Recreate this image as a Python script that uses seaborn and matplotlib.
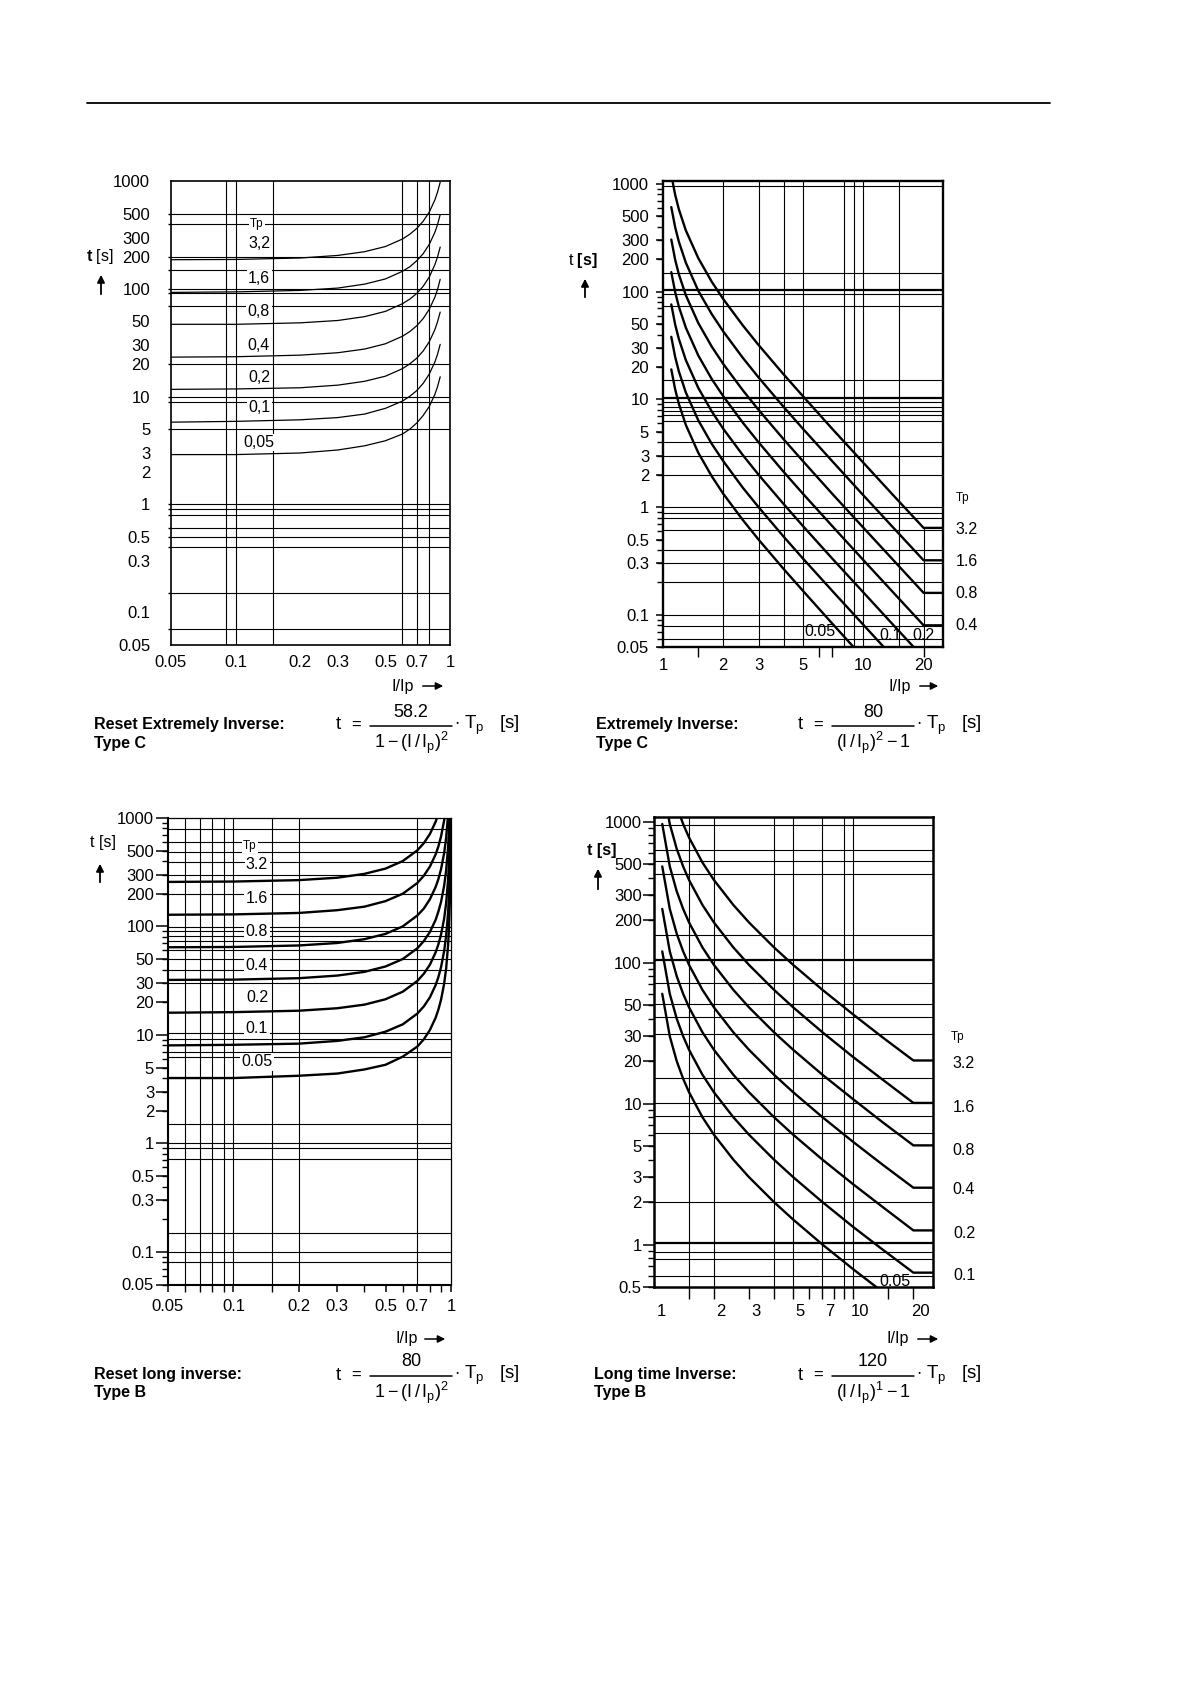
import numpy as np
import pandas as pd
import matplotlib
matplotlib.use("Agg")
import matplotlib.pyplot as plt
import matplotlib.ticker as mticker
from matplotlib.patches import FancyArrowPatch
from matplotlib.lines import Line2D
from matplotlib.transforms import ScaledTranslation
import seaborn as sns

# ---------------- data ----------------
TP_LABELS = ["3.2", "1.6", "0.8", "0.4", "0.2", "0.1", "0.05"]

# Panel A : Reset Extremely Inverse, Type C   (x = I/Ip, t in s)
a_x = [0.05, 0.1, 0.2, 0.3, 0.4, 0.5, 0.6, 0.65, 0.7, 0.75, 0.8, 0.85, 0.875, 0.9]
a_32 = [187, 188, 194, 205, 222, 248, 291, 323, 365, 426, 517, 671, 795, 980]
a_16 = [93, 94, 97, 102, 111, 124, 146, 161, 183, 213, 259, 336, 397, 490]
a_08 = [47, 47, 48.5, 51, 55.4, 62, 73, 80.6, 91, 106, 129, 168, 199, 245]
a_04 = [23.3, 23.5, 24.3, 25.6, 27.7, 31, 36.4, 40.3, 45.6, 53.2, 64.7, 83.9, 99, 123]
a_02 = [11.7, 11.8, 12.1, 12.8, 13.9, 15.5, 18.2, 20.2, 22.8, 26.6, 32.3, 41.9, 49.7, 61]
a_01 = [5.8, 5.9, 6.1, 6.4, 6.9, 7.8, 9.1, 10.1, 11.4, 13.3, 16.2, 21, 24.8, 30.6]
a_005 = [2.9, 2.9, 3.0, 3.2, 3.5, 3.9, 4.5, 5.0, 5.7, 6.7, 8.1, 10.5, 12.4, 15.3]

# Panel B : Extremely Inverse, Type C
b_x = [1.1, 1.15, 1.2, 1.3, 1.5, 1.75, 2, 2.5, 3, 4, 5, 7, 10, 14, 20, 25]
b_32 = [1219, 794, 582, 371, 205, 124, 85.3, 48.8, 32, 17.1, 10.7, 5.33, 2.59, 1.31, 0.642, 0.642]
b_16 = [610, 397, 291, 186, 102, 62.1, 42.7, 24.4, 16, 8.53, 5.33, 2.67, 1.29, 0.656, 0.321, 0.321]
b_08 = [305, 198, 145, 92.8, 51.2, 31.0, 21.3, 12.2, 8.0, 4.27, 2.67, 1.33, 0.646, 0.328, 0.160, 0.160]
b_04 = [152, 99.2, 72.7, 46.4, 25.6, 15.5, 10.7, 6.10, 4.0, 2.13, 1.33, 0.667, 0.323, 0.164, 0.080, 0.080]
b_02 = [76.2, 49.6, 36.4, 23.2, 12.8, 7.76, 5.33, 3.05, 2.0, 1.07, 0.667, 0.333, 0.162, 0.082, 0.040]
b_01 = [38.1, 24.8, 18.2, 11.6, 6.4, 3.88, 2.67, 1.52, 1.0, 0.533, 0.333, 0.167, 0.081, 0.041]
b_005 = [19.0, 12.4, 9.09, 5.80, 3.2, 1.94, 1.33, 0.762, 0.5, 0.267, 0.167, 0.083, 0.040]

# Panel C : Reset long inverse, Type B
c_x = [0.05, 0.1, 0.2, 0.3, 0.4, 0.5, 0.6, 0.7, 0.75, 0.8, 0.85, 0.875, 0.9,
       0.93, 0.95, 0.97, 0.98, 0.99, 0.995, 0.998]
c_32 = [257, 259, 267, 281, 305, 341, 400, 502, 585, 711, 923, 1092]
c_16 = [128, 129, 133, 141, 152, 171, 200, 251, 293, 356, 461, 546, 674, 948, 1313]
c_08 = [64.2, 64.6, 66.7, 70.3, 76.2, 85.3, 100, 126, 146, 178, 231, 273, 337, 474, 656, 1083]
c_04 = [32.1, 32.3, 33.3, 35.2, 38.1, 42.7, 50.0, 62.8, 73.2, 88.9, 115, 137, 168, 237, 328,
        541, 808, 1608]
c_02 = [16.0, 16.2, 16.7, 17.6, 19.0, 21.3, 25.0, 31.4, 36.6, 44.4, 57.7, 68.3, 84.2, 118, 164,
        271, 404, 804, 1604]
c_01 = [8.0, 8.1, 8.3, 8.8, 9.5, 10.7, 12.5, 15.7, 18.3, 22.2, 28.8, 34.1, 42.1, 59.2, 82.1,
        135, 202, 402, 802, 2002]
c_005 = [4.0, 4.0, 4.2, 4.4, 4.8, 5.3, 6.3, 7.8, 9.1, 11.1, 14.4, 17.1, 21.1, 29.6, 41.0,
         67.7, 101, 201, 401, 1001]

# Panel D : Long time Inverse, Type B
d_x = [1.1, 1.2, 1.3, 1.4, 1.5, 1.75, 2, 2.5, 3, 4, 5, 7, 10, 14, 20, 25]
d_32 = [3840, 1920, 1280, 960, 768, 512, 384, 256, 192, 128, 96, 64, 42.7, 29.5, 20.2, 20.2]
d_16 = [1920, 960, 640, 480, 384, 256, 192, 128, 96, 64, 48, 32, 21.3, 14.8, 10.1, 10.1]
d_08 = [960, 480, 320, 240, 192, 128, 96, 64, 48, 32, 24, 16, 10.7, 7.38, 5.05, 5.05]
d_04 = [480, 240, 160, 120, 96, 64, 48, 32, 24, 16, 12, 8, 5.33, 3.69, 2.53, 2.53]
d_02 = [240, 120, 80, 60, 48, 32, 24, 16, 12, 8, 6, 4, 2.67, 1.85, 1.26, 1.26]
d_01 = [120, 60, 40, 30, 24, 16, 12, 8, 6, 4, 3, 2, 1.33, 0.923, 0.632, 0.632]
d_005 = [60, 30, 20, 15, 12, 8, 6, 4, 3, 2, 1.5, 1.0, 0.667, 0.462]

# tick labels
Y_TICKS = [1000, 500, 300, 200, 100, 50, 30, 20, 10, 5, 3, 2, 1, 0.5, 0.3, 0.1, 0.05]
Y_TICKS_D = [1000, 500, 300, 200, 100, 50, 30, 20, 10, 5, 3, 2, 1, 0.5]
X_TICKS_RESET = [0.05, 0.1, 0.2, 0.3, 0.5, 0.7, 1]
X_TICKS_B = [1, 2, 3, 5, 10, 20]
X_TICKS_D = [1, 2, 3, 5, 7, 10, 20]


def fmt(v):
    return f"{v:g}"


# grid lines seen on the scanned chart sheets
a_hgrid = [500, 400, 200, 150, 100, 92, 70, 20, 10, 9, 5, 1.0, 0.9, 0.8, 0.6, 0.5, 0.4, 0.15, 0.07]
a_vgrid = [0.09, 0.1, 0.15, 0.6, 0.7, 0.8]
b_hgrid = [960, 150, 95, 73, 15, 9.4, 8.5, 7.8, 7.1, 6.3, 4.0, 3.0, 2.0, 1.0, 0.89, 0.8,
           0.61, 0.4, 0.3, 0.2, 0.1, 0.078, 0.06]
b_hgrid_bold = [104, 10.4]
b_vgrid = [2, 3, 4, 5, 8, 9, 10, 15]
c_hgrid = [790, 600, 490, 395, 300, 200, 98, 90, 82, 74, 60, 50, 40, 30, 10.3, 9.2, 6.9, 6.2,
           1.5, 1.0, 0.9, 0.71, 0.15, 0.10, 0.08]
c_vgrid = [0.06, 0.07, 0.08, 0.09, 0.1, 0.15, 0.2, 0.7]
d_hgrid = [945, 627, 524, 422, 158, 72, 51, 41, 31, 15.2, 10.1, 8.2, 6.2, 2.0, 0.89, 0.79, 0.6]
d_hgrid_bold = [105, 1.03]
d_vgrid = [1.5, 2, 4, 5, 7, 9, 10]

# ---------------- style ----------------
sns.set_style("white")
plt.rcParams["font.family"] = ["Liberation Sans", "DejaVu Sans"]
plt.rcParams["mathtext.fontset"] = "custom"
plt.rcParams["mathtext.rm"] = "Liberation Sans"
plt.rcParams["mathtext.it"] = "Liberation Sans"
plt.rcParams["mathtext.bf"] = "Liberation Sans:bold"
plt.rcParams["axes.edgecolor"] = "black"
plt.rcParams["xtick.color"] = "black"
plt.rcParams["ytick.color"] = "black"
plt.rcParams["xtick.direction"] = "out"
plt.rcParams["ytick.direction"] = "out"

TICK_FS = 12
W, H = 1190, 1684
fig = plt.figure(figsize=(W / 100, H / 100), dpi=100)
fig.patch.set_facecolor("white")


def fx(x):
    return x / W


def fy(y):
    return 1 - y / H


def frame(xs, curves):
    rows = []
    for lab, ys in zip(TP_LABELS, curves):
        for xv, yv in zip(xs, ys):
            rows.append((lab, xv, yv))
    return pd.DataFrame(rows, columns=["Tp", "I", "t"])


def make_panel(rect, xs, curves, lw, xlim, ylim, hgrid, vgrid, hbold=(), spine_lw=1.4):
    ax = fig.add_axes(rect)
    df = frame(xs, curves)
    sns.lineplot(data=df, x="I", y="t", hue="Tp", palette={k: "black" for k in TP_LABELS},
                 estimator=None, legend=False, linewidth=lw, ax=ax, zorder=3)
    ax.set_xscale("log")
    ax.set_yscale("log")
    ax.set_xlim(*xlim)
    ax.set_ylim(*ylim)
    ax.set_xlabel("")
    ax.set_ylabel("")
    for v in hgrid:
        ax.axhline(v, color="black", lw=0.8, zorder=1)
    for v in hbold:
        ax.axhline(v, color="black", lw=1.6, zorder=1)
    for v in vgrid:
        ax.axvline(v, color="black", lw=0.8, zorder=1)
    for s in ax.spines.values():
        s.set_linewidth(spine_lw)
        s.set_color("black")
        s.set_zorder(4)
    ax.xaxis.remove_overlapping_locs = False
    ax.yaxis.remove_overlapping_locs = False
    return ax


def set_ticks(ax, yt, xt, ylen, ypad, xlen, xpad, yminor=None, yminlen=0, xminor=None, xminlen=0):
    ax.yaxis.set_major_locator(mticker.FixedLocator(yt))
    ax.yaxis.set_major_formatter(mticker.FixedFormatter([fmt(v) for v in yt]))
    ax.xaxis.set_major_locator(mticker.FixedLocator(xt))
    ax.xaxis.set_major_formatter(mticker.FixedFormatter([fmt(v) for v in xt]))
    if yminor is None:
        ax.yaxis.set_minor_locator(mticker.NullLocator())
    else:
        ax.yaxis.set_minor_locator(yminor)
    ax.yaxis.set_minor_formatter(mticker.NullFormatter())
    if xminor is None:
        ax.xaxis.set_minor_locator(mticker.NullLocator())
    else:
        ax.xaxis.set_minor_locator(xminor)
    ax.xaxis.set_minor_formatter(mticker.NullFormatter())
    ax.tick_params(axis="y", which="major", length=ylen, width=1.1, pad=ypad, labelsize=TICK_FS,
                   left=True)
    ax.tick_params(axis="y", which="minor", length=yminlen, width=1.0, left=True)
    ax.tick_params(axis="x", which="major", length=xlen, width=1.1, pad=xpad, labelsize=TICK_FS,
                   bottom=True)
    ax.tick_params(axis="x", which="minor", length=xminlen, width=1.0, bottom=True)


LOG_MINOR = mticker.LogLocator(base=10, subs=np.arange(2, 10), numticks=20)

# ---------------- Panel A ----------------
axA = make_panel([fx(171), fy(644.5), 279 / W, 463.2 / H], a_x,
                 [a_32, a_16, a_08, a_04, a_02, a_01, a_005], 0.9,
                 (0.05, 1), (0.05, 1000), a_hgrid, a_vgrid, spine_lw=1.2)
set_ticks(axA, Y_TICKS, X_TICKS_RESET, 0, 15, 0, 7.5,
          yminor=mticker.FixedLocator(a_hgrid), yminlen=2.5)

# ---------------- Panel B ----------------
axB = make_panel([fx(663), fy(647.3), 280 / W, 466 / H], b_x,
                 [b_32, b_16, b_08, b_04, b_02, b_01, b_005], 1.7,
                 (1, 25), (0.05, 1059), b_hgrid, b_vgrid, hbold=b_hgrid_bold, spine_lw=1.7)
frac20 = (np.log10(b_32[-1]) - np.log10(0.05)) / (np.log10(1059) - np.log10(0.05))
axB.axvline(20, ymin=0, ymax=frac20, color="black", lw=0.8, zorder=1)
set_ticks(axB, Y_TICKS, X_TICKS_B, 5, 5.0, 0, 7.5,
          yminor=LOG_MINOR, yminlen=4,
          xminor=mticker.FixedLocator([1.5, 6, 7, 20]), xminlen=7.5)

# ---------------- Panel C ----------------
axC = make_panel([fx(168), fy(1284.5), 283 / W, 466.6 / H], c_x,
                 [c_32, c_16, c_08, c_04, c_02, c_01, c_005], 1.7,
                 (0.05, 1), (0.05, 1000), c_hgrid, c_vgrid, spine_lw=1.5)
axC.spines["top"].set_linewidth(0.9)
axC.spines["right"].set_linewidth(0.9)
set_ticks(axC, Y_TICKS, X_TICKS_RESET, 9, 1, 5, 5.5,
          yminor=LOG_MINOR, yminlen=4.5,
          xminor=mticker.FixedLocator([0.06, 0.07, 0.08, 0.09, 0.15, 0.4, 0.6, 0.8, 0.9]),
          xminlen=5)

# ---------------- Panel D ----------------
axD = make_panel([fx(654), fy(1287), 278.7 / W, 469.8 / H], d_x,
                 [d_32, d_16, d_08, d_04, d_02, d_01, d_005], 1.7,
                 (1, 25), (0.5, 1073), d_hgrid, d_vgrid, hbold=d_hgrid_bold, spine_lw=1.8)
set_ticks(axD, Y_TICKS_D, X_TICKS_D, 8, 0.8, 0, 12,
          yminor=LOG_MINOR, yminlen=4.5,
          xminor=mticker.FixedLocator([1.5, 2, 3, 4, 5, 6, 7, 8, 9, 10, 15, 20]), xminlen=8.5)
shift = ScaledTranslation(7 / 100, 0, fig.dpi_scale_trans)
for lab in axD.xaxis.get_majorticklabels():
    lab.set_transform(lab.get_transform() + shift)

# ---------------- texts ----------------
def ftext(x, y, s, size=11, ha="center", va="center", weight="normal", ax=None, box=False,
          z=2.5):
    kw = dict(fontsize=size, ha=ha, va=va, fontweight=weight, color="black")
    if box:
        kw["bbox"] = dict(facecolor="white", edgecolor="none", pad=1.0)
    if ax is None:
        return fig.text(fx(x), fy(y), s, **kw)
    return ax.text(fx(x), fy(y), s, transform=fig.transFigure, zorder=z, clip_on=False, **kw)


def up_arrow(x, y0, y1):
    fig.add_artist(FancyArrowPatch((fx(x), fy(y0)), (fx(x), fy(y1)), transform=fig.transFigure,
                                   arrowstyle="-|>", mutation_scale=11, lw=1.3, color="black"))


def right_arrow(x0, x1, y):
    fig.add_artist(FancyArrowPatch((fx(x0), fy(y)), (fx(x1), fy(y)), transform=fig.transFigure,
                                   arrowstyle="-|>", mutation_scale=11, lw=1.1, color="black"))


# header rule
fig.add_artist(Line2D([fx(87), fx(1050)], [fy(103), fy(103)], transform=fig.transFigure,
                      color="black", lw=1.3))

# y axis names and arrows
ftext(100, 256, r"$\mathbf{t}$ [s]", size=11.5)
up_arrow(101, 297, 272)
ftext(583, 261, r"t $\mathbf{[s]}$", size=11.5)
up_arrow(585, 300, 276)
ftext(103, 843, "t [s]", size=11.5)
up_arrow(100, 885, 861)
ftext(602, 850, "t [s]", weight="bold", size=11.5)
up_arrow(598, 892, 866)

# x axis names and arrows
for (tx, ax0, ax1, yy) in [(403, 420, 446, 686), (900, 917, 941, 686),
                           (407, 422, 448, 1339), (898, 915, 941, 1339)]:
    ftext(tx, yy, "I/Ip", size=11.5)
    right_arrow(ax0, ax1, yy)

# curve labels, panel A (comma decimals as in the reference)
ftext(257, 224, "Tp", size=8.5, ax=axA, box=True)
for lab, yy in zip(["3,2", "1,6", "0,8", "0,4", "0,2", "0,1", "0,05"],
                   [244, 278.5, 311, 345.5, 377.5, 408, 442.5]):
    ftext(259, yy, lab, size=11.5, ax=axA, box=True)

# curve labels, panel C
ftext(250, 846, "Tp", size=8.5, ax=axC, box=True)
for lab, yy in zip(TP_LABELS, [864, 898.5, 931, 966, 998, 1028.5, 1062]):
    ftext(257, yy, lab, size=11.5, ax=axC, box=True)

# curve labels, panel B (right side and inside)
ftext(963, 498.5, "Tp", size=8.5)
for lab, yy in zip(TP_LABELS[:4], [529, 562, 594, 625.5]):
    ftext(967, yy, lab, size=11.5)
ftext(820, 631, "0.05", size=11.5, ax=axB, z=2)
ftext(890, 636, "0.1", size=11.5, ax=axB, z=2)
ftext(923, 636, "0.2", size=11.5, ax=axB, z=2)

# curve labels, panel D
ftext(958, 1037, "Tp", size=8.5)
for lab, yy in zip(TP_LABELS[:6], [1064, 1107, 1150.5, 1190, 1233.5, 1275]):
    ftext(964, yy, lab, size=11.5)
ftext(895, 1282, "0.05", size=11.5, ax=axD, z=2)


# captions and formulas
def formula(xt, bar0, bar1, y, num, den):
    ftext(xt, y, "t", size=13.5)
    ftext(xt + 18, y, "=", size=12)
    mid = (bar0 + bar1) / 2
    ftext(mid, y - 13, num, size=13)
    fig.add_artist(Line2D([fx(bar0), fx(bar1)], [fy(y + 1), fy(y + 1)],
                          transform=fig.transFigure, color="black", lw=1.1))
    ftext(mid, y + 18, den, size=13)
    ftext(bar1 + 2, y, r"$\cdot\ T_p\ \ \ [s]$", size=13.5, ha="left")


CAP = 11.5
ftext(94, 725, "Reset Extremely Inverse:", ha="left", weight="bold", size=CAP)
ftext(94, 743, "Type C", ha="left", weight="bold", size=CAP)
formula(338, 370, 452, 725, "58.2", r"$1 - (I\,/\,I_p)^2$")

ftext(596, 725, "Extremely Inverse:", ha="left", weight="bold", size=CAP)
ftext(596, 743, "Type C", ha="left", weight="bold", size=CAP)
formula(800, 832, 914, 725, "80", r"$(I\,/\,I_p)^2 - 1$")

ftext(94, 1375, "Reset long inverse:", ha="left", weight="bold", size=CAP)
ftext(94, 1393, "Type B", ha="left", weight="bold", size=CAP)
formula(338, 370, 452, 1375, "80", r"$1 - (I\,/\,I_p)^2$")

ftext(594, 1375, "Long time Inverse:", ha="left", weight="bold", size=CAP)
ftext(594, 1393, "Type B", ha="left", weight="bold", size=CAP)
formula(800, 832, 914, 1375, "120", r"$(I\,/\,I_p)^1 - 1$")

fig.savefig("out.png", dpi=100, facecolor="white")
